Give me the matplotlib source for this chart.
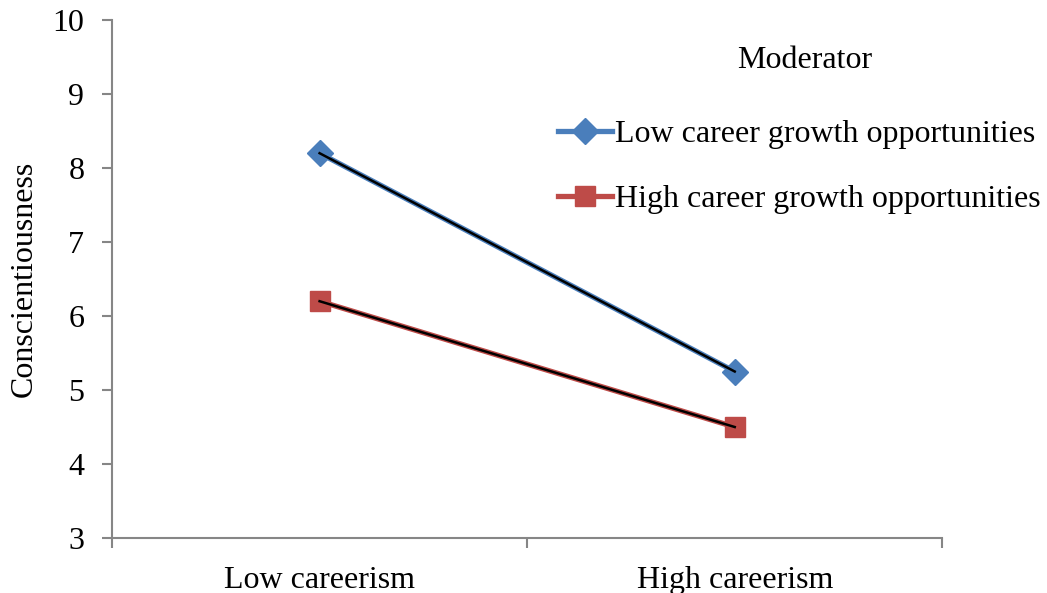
import matplotlib.pyplot as plt

# date
categorii = ["Low careerism", "High careerism"]
low_growth = [8.2, 5.25]
high_growth = [6.2, 4.5]
serii = ["Low career growth opportunities", "High career growth opportunities"]

plt.rcParams['font.family'] = ['Liberation Serif', 'DejaVu Serif']

fig = plt.figure(figsize=(10.47, 5.93), dpi=100)
ax = fig.add_axes([0.107, 0.0927, 0.793, 0.8736])

x = [0.5, 1.5]
ax.plot(x, low_growth, color='#4a7ebb', lw=3.8, marker='D', ms=13, label=serii[0], zorder=2)
ax.plot(x, high_growth, color='#be4b48', lw=3.8, marker='s', ms=14.5, label=serii[1], zorder=2)
# linii negre subtiri peste
ax.plot(x, low_growth, color='black', lw=1.8, zorder=3)
ax.plot(x, high_growth, color='black', lw=1.8, zorder=3)

ax.set_xlim(0, 2)
ax.set_ylim(3, 10)
ax.set_yticks(range(3, 11))
ax.set_xticks([0, 1, 2])
ax.set_xticklabels([])
ax.set_xticks(x, minor=True)
ax.set_xticklabels(categorii, minor=True)
ax.tick_params(axis='x', which='minor', length=0, labelsize=23, pad=20)
ax.tick_params(axis='x', which='major', length=7, color='#868686', width=1.5)
ax.tick_params(axis='y', length=7, color='#868686', width=1.5, labelsize=23, pad=13)

for s in ['top', 'right']:
    ax.spines[s].set_visible(False)
for s in ['left', 'bottom']:
    ax.spines[s].set_color('#868686')
    ax.spines[s].set_linewidth(1.5)

ax.set_ylabel("Conscientiousness", fontsize=23, labelpad=10)

# titlul legendei separat
fig.text(805 / 1047, 1 - 61 / 593, "Moderator", fontsize=23, ha='center', va='center')
ax.legend(loc='center left', bbox_to_anchor=(0.503, 0.716),
          frameon=False, fontsize=23,
          handlelength=1.68, handletextpad=0.1, labelspacing=1.11)

fig.savefig("out.png", dpi=100)
